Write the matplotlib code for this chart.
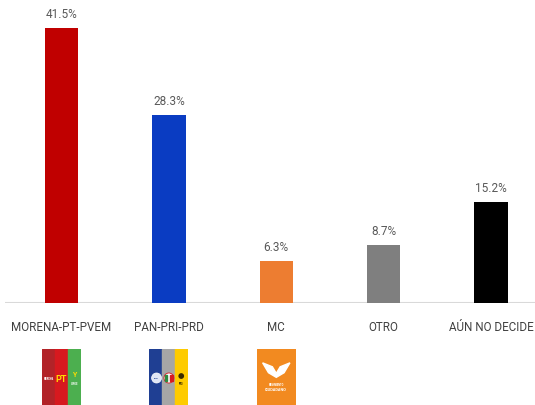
import matplotlib
matplotlib.use("Agg")
import matplotlib.pyplot as plt
from matplotlib.patches import Rectangle, Circle, Polygon

plt.rcParams['font.family'] = ['Roboto', 'DejaVu Sans']

categories = ["MORENA-PT-PVEM", "PAN-PRI-PRD", "MC", "OTRO", "AÚN NO DECIDE"]
values = [41.5, 28.3, 6.3, 8.7, 15.2]
value_labels = ["41.5%", "28.3%", "6.3%", "8.7%", "15.2%"]
colors = ["#c00000", "#0a3cc2", "#ed7d31", "#7f7f7f", "#000000"]

W, H = 535, 406
fig = plt.figure(figsize=(W / 100, H / 100), dpi=100)
fig.patch.set_facecolor("white")

# main axes: from x=5 to 535 px, baseline at y=304 px from top
ax = fig.add_axes([5 / W, (H - 304) / H, 530 / W, 304 / H])
x = list(range(len(categories)))
ax.bar(x, values, width=0.31, color=colors, zorder=2)
ax.set_xlim(-0.526, 4.409)
ax.set_ylim(0, 45.85)
ax.axhline(0, color="#d9d9d9", lw=1.5, zorder=1)
for s in ax.spines.values():
    s.set_visible(False)
ax.set_xticks([])
ax.set_yticks([])
ax.patch.set_alpha(0)

for xi, v, lab in zip(x, values, value_labels):
    ax.annotate(lab, (xi, v), xytext=(0, 6), textcoords="offset points",
                ha="center", va="bottom", fontsize=8.5, color="#595959")

for xi, cat in zip(x, categories):
    ax.annotate(cat, (xi, 0), xytext=(0, -17), textcoords="offset points",
                ha="center", va="center", fontsize=8.4, color="#404040")

# logos below the first three categories
def logo_axes(cx):
    lw, lh = 39, 58
    la = fig.add_axes([(cx - lw / 2) / W, (H - 350 - lh) / H, lw / W, lh / H])
    la.set_xlim(0, 3)
    la.set_ylim(0, 4.4)
    la.axis("off")
    return la

# bar centers in pixels
def center_px(i):
    x0, x1 = ax.get_xlim()
    return 5 + (i - x0) / (x1 - x0) * 530

# MORENA-PT-PVEM logo
la = logo_axes(center_px(0))
for k, c in enumerate(["#b22328", "#d7191f", "#4caf4f"]):
    la.add_patch(Rectangle((k, 0), 1, 4.4, color=c))
la.text(0.5, 2.2, "MORENA", color="white", fontsize=1.8, ha="center", va="center", weight="bold")
la.text(1.5, 2.15, "PT", color="#ffde00", fontsize=6.5, ha="center", va="center", weight="bold")
la.text(2.5, 1.8, "VERDE", color="white", fontsize=1.8, ha="center", va="center", weight="bold")
la.text(2.5, 2.5, "Y", color="#ffde00", fontsize=5, ha="center", va="center", weight="bold")

# PAN-PRI-PRD logo
la = logo_axes(center_px(1))
for k, c in enumerate(["#1f3f93", "#a6a6a6", "#fecb00"]):
    la.add_patch(Rectangle((k, 0), 1, 4.4, color=c))
la.add_patch(Circle((0.55, 2.2), 0.38, facecolor="#dfe6f5", edgecolor="white", lw=0.5))
la.text(0.55, 2.2, "PAN", color="#1f3f93", fontsize=1.6, ha="center", va="center", weight="bold")
la.add_patch(Circle((1.5, 2.2), 0.38, facecolor="white", edgecolor="#d7191f", lw=0.6))
la.add_patch(Rectangle((1.18, 1.95), 0.2, 0.5, color="#2e8b3e"))
la.add_patch(Rectangle((1.62, 1.95), 0.2, 0.5, color="#d7191f"))
la.add_patch(Circle((2.45, 2.35), 0.22, facecolor="#3a2a00", edgecolor="none"))
la.text(2.45, 1.85, "PRD", color="#3a2a00", fontsize=1.8, ha="center", va="center", weight="bold")

# MC logo
la = logo_axes(center_px(2))
la.add_patch(Rectangle((0, 0), 3, 4.4, color="#f28a20"))
la.add_patch(Polygon([(0.45, 3.35), (1.2, 3.05), (1.5, 2.55), (1.8, 3.05), (2.55, 3.35),
                      (2.1, 2.6), (1.5, 2.25), (0.9, 2.6)], closed=True, color="white"))
la.text(1.5, 1.75, "MOVIMIENTO", color="white", fontsize=1.8, ha="center", va="center", weight="bold")
la.text(1.5, 1.35, "CIUDADANO", color="white", fontsize=2.8, ha="center", va="center", weight="bold")

fig.savefig("out.png", dpi=100, facecolor="white")
